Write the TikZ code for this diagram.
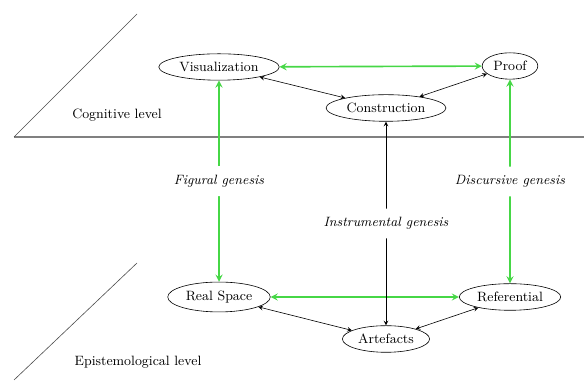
\documentclass[tikz,border=0pt]{standalone}
\usetikzlibrary{positioning,shapes.geometric}

\definecolor{genesis}{RGB}{70,215,70}

\begin{document}
\begin{tikzpicture}[x=0.6667pt, y=0.6667pt, >=stealth,
    every node/.style={ellipse, draw, inner xsep=2pt, inner ysep=3pt, font=\small},
    gen/.style={<->, draw=genesis, line width=1.1pt},
    link/.style={<->, thin}]
            \useasboundingbox (0,0) rectangle (584,381);

            % Planes
            \draw[gray, line width=1pt] (14,244) -- (584,244);
            \draw[gray!60!black] (14,244) -- (137,367);
            \draw[gray!60!black] (14,1) -- (137,118);
            \node (cog) [draw=none] at (117,266) {Cognitive level};
            \node (epi) [draw=none] at (138,19) {Epistemological level};

            % Cognitive nodes
            \node (vis) at (219,314) {Visualization};
            \node (proof) at (510,315) {Proof};
            \node (constr) at (386,273) {Construction};

            % Epistemological nodes
            \node (real) at (219,84) {Real Space};
            \node (ref) at (510,84) {Referential};
            \node (art) at (386,42) {Artefacts};

            % Connect the nodes
            \draw[gen] (vis) -- (proof);
            \draw[gen] (real) -- (ref);
            \draw[link] (constr) -- (vis);
            \draw[link] (constr) -- (proof);
            \draw[link] (art) -- (real);
            \draw[link] (art) -- (ref);

            % Geneses
            \draw[gen] (vis) -- node[midway, draw=none, fill=white] {\textit{Figural genesis}} (real);
            \draw[gen] (proof) -- node[midway, draw=none, fill=white] {\textit{Discursive genesis}} (ref);
            \draw[link] (constr) -- node[midway, draw=none, fill=white] {\textit{Instrumental genesis}} (art);

        \end{tikzpicture}
\end{document}
